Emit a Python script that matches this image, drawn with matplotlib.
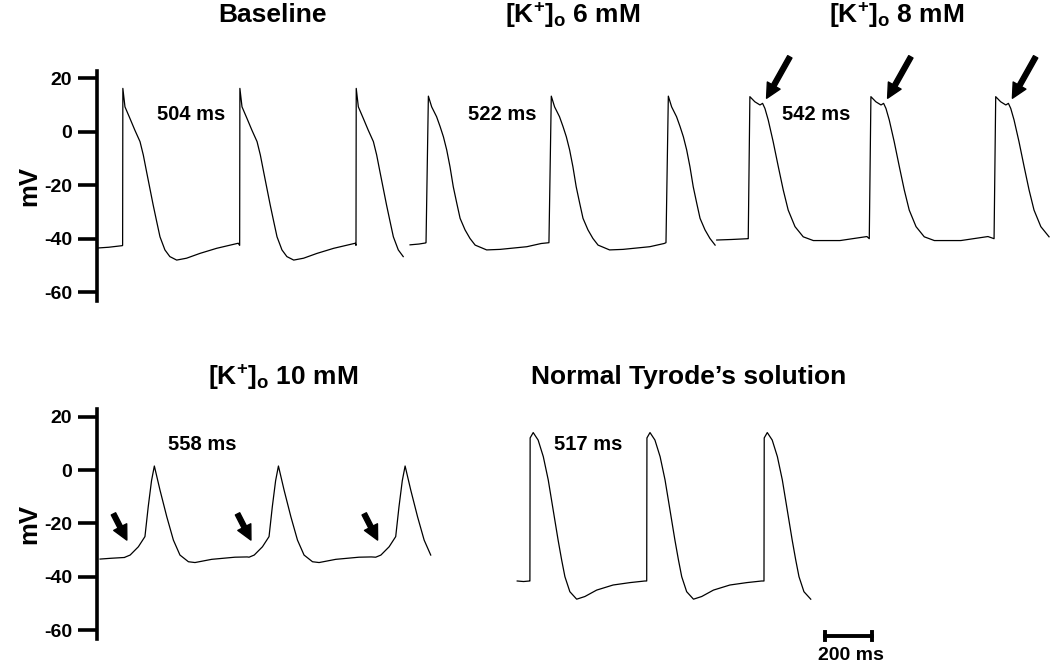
import matplotlib
matplotlib.use("Agg")
import matplotlib.pyplot as plt

plt.rcParams['font.family'] = ['Liberation Sans', 'DejaVu Sans']
plt.rcParams['font.weight'] = 'bold'
plt.rcParams['axes.unicode_minus'] = False
plt.rcParams['mathtext.fontset'] = 'custom'
plt.rcParams['mathtext.rm'] = 'Liberation Sans:bold'
plt.rcParams['mathtext.it'] = 'Liberation Sans:bold'
plt.rcParams['mathtext.bf'] = 'Liberation Sans:bold'

# ---- data (time in ms, membrane potential in mV) ----
# one action-potential template per condition, times relative to the upstroke
base_t = [0, 1, 10, 31, 52, 74, 88, 102, 116, 130, 145, 159, 180, 201, 230, 272, 329, 400, 492]
base_v = [-42.5, 16.2, 9.3, 5.0, 0.6, -3.7, -8.7, -15, -21.2, -27.4, -33.6, -39.3, -44.2,
          -46.7, -48, -47.3, -45.5, -43.6, -41.7]
base_onsets = [109, 607, 1102]
base_pre_t = [0, 50, 108]
base_pre_v = [-43.5, -43.2, -42.6]
base_end = 1303

k6_t = [0, 10, 24, 45, 60, 74, 88, 102, 116, 131, 145, 166, 187, 209, 258, 315, 429, 490]
k6_v = [-41.5, 13.3, 9.3, 5.6, 1.9, -1.9, -6.8, -13.1, -20.6, -26.8, -32.4, -36.7, -39.9,
        -42.4, -44.2, -44, -43, -41.8]
k6_onsets = [1400, 1923, 2421]
k6_pre_t = [1332, 1370, 1398]
k6_pre_v = [-42.3, -42.0, -41.6]
k6_end = 2630

k8_t = [0, 7, 28, 50, 61, 71, 85, 106, 128, 149, 170, 199, 234, 277, 390, 505]
k8_v = [-40, 13.1, 11.2, 10.0, 10.6, 8.7, 4.4, -3.7, -13.1, -21.8, -29.3, -35.5, -39.3,
        -40.7, -40.7, -39.2]
k8_onsets = [2771, 3286, 3817]
k8_pre_t = [2637, 2700, 2769]
k8_pre_v = [-40.5, -40.3, -40.0]
k8_end = 4055

# 10 mM beats are aligned on their peak
k10_t = [-125, -103, -68, -40, -26, -12, 0, 24, 53, 81, 109, 145, 173, 244, 343, 395]
k10_v = [-32.6, -31.8, -28.7, -24.9, -13.7, -4.0, 1.5, -7.5, -17.5, -26.2, -31.8, -34.3,
         -34.6, -33.4, -32.6, -32.5]
k10_peaks = [244, 772, 1311]
k10_pre_t = [13, 60, 118]
k10_pre_v = [-33.3, -33.0, -32.7]
k10_end = 1421

nt_t = [0, 1, 14, 35, 57, 78, 92, 106, 120, 135, 149, 170, 199, 234, 284, 354, 426, 489]
nt_v = [-41.5, 12, 14.0, 11.2, 5.0, -3.7, -11.2, -18.7, -26.2, -33.6, -39.9, -45.5, -48.3,
        -47.3, -44.9, -43.0, -42.1, -41.5]
nt_onsets = [1842, 2339, 2838]
nt_pre_t = [1788, 1815, 1840]
nt_pre_v = [-41.5, -41.7, -41.5]
nt_end = 3065

titles_top = ['Baseline', '[K$^{+}$]$_{\\rm o}$ 6 mM', '[K$^{+}$]$_{\\rm o}$ 8 mM']
titles_bot = ['[K$^{+}$]$_{\\rm o}$ 10 mM', 'Normal Tyrode\u2019s solution']
cycle_top = ['504 ms', '522 ms', '542 ms']
cycle_bot = ['558 ms', '517 ms']
yticks = [-60, -40, -20, 0, 20]
scale_ms = 200


def build(pre_t, pre_v, tt, vv, onsets, end):
    xs, ys = list(pre_t), list(pre_v)
    for on in onsets:
        for t, v in zip(tt, vv):
            if on + t <= end:
                xs.append(on + t)
                ys.append(v)
    return xs, ys


W, H = 1050, 663
fig = plt.figure(figsize=(W / 100, H / 100), dpi=100)


def fx(px):
    return px / W


def fy(py):
    return 1 - py / H


def make_axes(top_px):
    ax = fig.add_axes([fx(97), fy(top_px + 230), fx(953), 230 / H])
    ax.set_xlim(0, 4055)
    ax.set_ylim(-63.3, 22.7)
    for s in ['top', 'right', 'bottom']:
        ax.spines[s].set_visible(False)
    ax.spines['left'].set_linewidth(2.6)
    ax.set_xticks([])
    ax.set_yticks(yticks)
    ax.tick_params(axis='y', length=13.5, width=2.6, pad=4.5, labelsize=14)
    for lab in ax.get_yticklabels():
        lab.set_fontweight('bold')
    ax.set_ylabel('mV', fontsize=18.5, fontweight='bold', labelpad=2)
    ax.patch.set_alpha(0)
    return ax


lw = 0.9
arrow_style = 'simple,head_length=0.75,head_width=0.75,tail_width=0.25'

ax1 = make_axes(71)
for args in [(base_pre_t, base_pre_v, base_t, base_v, base_onsets, base_end),
             (k6_pre_t, k6_pre_v, k6_t, k6_v, k6_onsets, k6_end),
             (k8_pre_t, k8_pre_v, k8_t, k8_v, k8_onsets, k8_end)]:
    x, y = build(*args)
    ax1.plot(x, y, color='black', lw=lw, clip_on=False)

# arrows at the notch of the 8 mM beats
for on in k8_onsets:
    ax1.annotate('', xy=(on + 78, 12.5), xytext=(on + 177, 28.0),
                 arrowprops=dict(arrowstyle=arrow_style, color='black',
                                 mutation_scale=14, shrinkA=0, shrinkB=0),
                 annotation_clip=False)

ax2 = make_axes(409.3)
for args in [(k10_pre_t, k10_pre_v, k10_t, k10_v, k10_peaks, k10_end),
             (nt_pre_t, nt_pre_v, nt_t, nt_v, nt_onsets, nt_end)]:
    x, y = build(*args)
    ax2.plot(x, y, color='black', lw=lw, clip_on=False)

# arrows at the slow depolarisation before each 10 mM beat
for pk in k10_peaks:
    ax2.annotate('', xy=(pk - 117, -26.2), xytext=(pk - 174, -16.4),
                 arrowprops=dict(arrowstyle=arrow_style, color='black',
                                 mutation_scale=14, shrinkA=0, shrinkB=0),
                 annotation_clip=False)

# scale bar 200 ms
sb0 = 3098
ax2.plot([sb0, sb0 + scale_ms], [-62.1, -62.1], color='black', lw=2.8, clip_on=False)
ax2.plot([sb0, sb0], [-63.6, -60.6], color='black', lw=2.8, clip_on=False)
ax2.plot([sb0 + scale_ms, sb0 + scale_ms], [-63.6, -60.6], color='black', lw=2.8, clip_on=False)
fig.text(fx(851), fy(656), f'{scale_ms} ms', ha='center', va='center', fontsize=14, fontweight='bold')

# titles
for txt, px in zip(titles_top, [272, 573, 897]):
    fig.text(fx(px), fy(15), txt, ha='center', va='center', fontsize=19, fontweight='bold')
for txt, px in zip(titles_bot, [283, 689]):
    fig.text(fx(px), fy(377), txt, ha='center', va='center', fontsize=19, fontweight='bold')

# cycle-length labels
for txt, px in zip(cycle_top, [191, 502, 816]):
    fig.text(fx(px), fy(114), txt, ha='center', va='center', fontsize=14.5, fontweight='bold')
for txt, px in zip(cycle_bot, [202, 588]):
    fig.text(fx(px), fy(444), txt, ha='center', va='center', fontsize=14.5, fontweight='bold')

fig.savefig('out.png', dpi=100)
